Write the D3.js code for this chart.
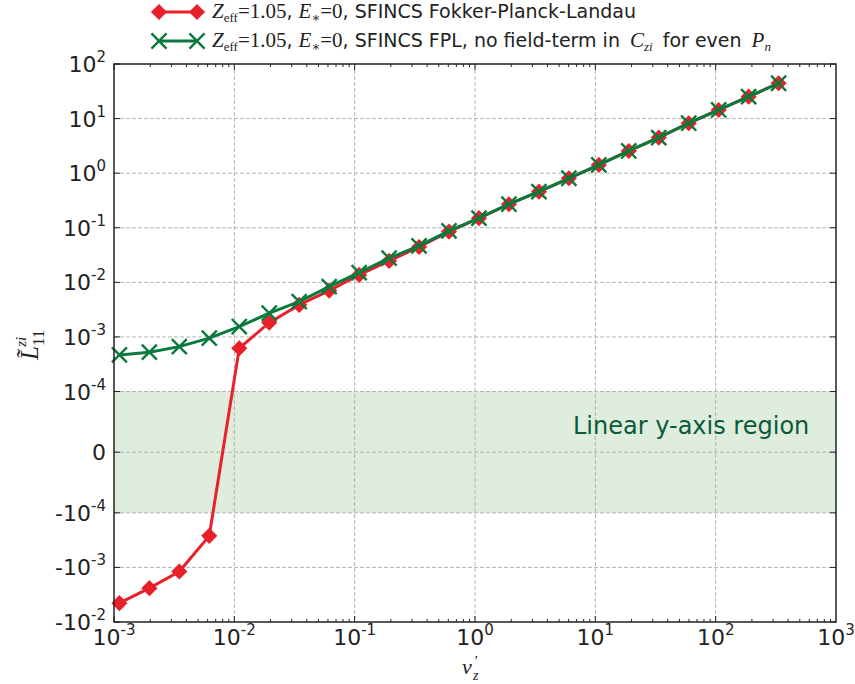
<!DOCTYPE html>
<html>
<head>
<meta charset="utf-8">
<script src="https://cdn.jsdelivr.net/npm/d3@7"></script>
<style>
  body { margin: 0; background: #fff; }
  svg { display: block; }
</style>
</head>
<body>
<div id="chart"></div>
<script>
// Normalised collision frequency nu'_z (x values shared by both runs)
const nuPrime = [1.109e-3, 1.968e-3, 3.49e-3, 6.19e-3, 0.01099, 0.0195, 0.0346, 0.0614,
  0.1089, 0.1932, 0.3428, 0.608, 1.079, 1.914, 3.40, 6.03, 10.69, 18.97, 33.65, 59.7,
  105.9, 187.9, 333.4];

// L11^zi, full Fokker-Planck-Landau operator
const fplValues = [-4.52e-3, -2.40e-3, -1.19e-3, -2.64e-4, 6.22e-4, 1.83e-3, 3.86e-3,
  7.06e-3, 0.01368, 0.0247, 0.0445, 0.085, 0.150, 0.270, 0.459, 0.807, 1.416, 2.55,
  4.48, 8.22, 14.4, 25.2, 44.4];

// L11^zi, FPL without field term in C_zi for even P_n
const noFieldValues = [4.69e-4, 5.26e-4, 6.65e-4, 9.5e-4, 1.55e-3, 2.72e-3, 4.43e-3,
  8.35e-3, 0.01507, 0.0277, 0.0465, 0.0875, 0.150, 0.270, 0.459, 0.807, 1.416, 2.55,
  4.48, 8.22, 14.4, 25.2, 44.4];

const xTickExps = [-3, -2, -1, 0, 1, 2, 3];
// y ticks: [value, sign prefix, exponent or null for plain "0"]
const yTicks = [[1e2, "", 2], [1e1, "", 1], [1e0, "", 0], [1e-1, "", -1], [1e-2, "", -2],
  [1e-3, "", -3], [1e-4, "", -4], [0, "", null], [-1e-4, "-", -4], [-1e-3, "-", -3], [-1e-2, "-", -2]];

const W = 855, H = 684;
const M = { left: 114, right: 836, top: 64, bottom: 622 };

const svg = d3.select("#chart").append("svg").attr("width", W).attr("height", H);

// Symmetric-log transform (linear within +-linthresh, log outside)
const linthresh = 1e-4, linscaleAdj = 1 / (1 - 1 / 10);
function symT(v) {
  const a = Math.abs(v);
  return a <= linthresh ? v / linthresh * linscaleAdj
    : Math.sign(v) * (Math.log10(a / linthresh) + linscaleAdj);
}
const yLin = d3.scaleLinear().domain([symT(-1e-2), symT(1e2)]).range([M.bottom, M.top]);
const y = v => yLin(symT(v));
const x = d3.scaleLog().domain([1e-3, 1e3]).range([M.left, M.right]);

const sans = "'DejaVu Sans', sans-serif";
const serif = "'Liberation Serif', 'DejaVu Serif', serif";

// linear region band
svg.append("rect")
  .attr("x", M.left).attr("width", M.right - M.left)
  .attr("y", y(1e-4)).attr("height", y(-1e-4) - y(1e-4))
  .attr("fill", "#deeddd");

// grid
const grid = svg.append("g").attr("stroke", "#b4b4b4").attr("stroke-width", 1)
  .attr("stroke-dasharray", "4,2");
xTickExps.slice(1, -1).forEach(e => {
  grid.append("line").attr("x1", x(10 ** e)).attr("x2", x(10 ** e))
    .attr("y1", M.top).attr("y2", M.bottom);
});
yTicks.slice(1, -1).forEach(t => {
  grid.append("line").attr("y1", y(t[0])).attr("y2", y(t[0]))
    .attr("x1", M.left).attr("x2", M.right);
});

svg.append("text")
  .attr("x", 573).attr("y", 434)
  .attr("font-family", sans).attr("font-size", 24)
  .attr("fill", "#0b5a3a")
  .text("Linear y-axis region");

// x ticks (major + minor), inward on bottom and top
const tk = svg.append("g").attr("stroke", "#222").attr("stroke-width", 1);
for (let e = -3; e < 3; e++) {
  for (let m = 1; m <= 9; m++) {
    const v = m * 10 ** e;
    const len = m === 1 ? 6 : 3;
    tk.append("line").attr("x1", x(v)).attr("x2", x(v)).attr("y1", M.bottom).attr("y2", M.bottom - len);
    tk.append("line").attr("x1", x(v)).attr("x2", x(v)).attr("y1", M.top).attr("y2", M.top + len);
  }
}
yTicks.forEach(t => {
  tk.append("line").attr("y1", y(t[0])).attr("y2", y(t[0])).attr("x1", M.right).attr("x2", M.right - 6);
  tk.append("line").attr("y1", y(t[0])).attr("y2", y(t[0])).attr("x1", M.left).attr("x2", M.left + 6);
});

// series
const line = d3.line().x(d => x(d[0])).y(d => y(d[1]));
const redC = "#e8202a", greenC = "#0a7a3c";
const redData = d3.zip(nuPrime, fplValues);
const greenData = d3.zip(nuPrime, noFieldValues);

const diamond = d3.symbol().type(d3.symbolSquare).size(130);
const cross = d3.symbol().type(d3.symbolTimes).size(150);

svg.append("path").datum(redData).attr("d", line)
  .attr("fill", "none").attr("stroke", redC).attr("stroke-width", 3);
svg.append("g").selectAll("path").data(redData).join("path")
  .attr("d", diamond)
  .attr("transform", d => `translate(${x(d[0])},${y(d[1])}) rotate(45)`)
  .attr("fill", redC);

svg.append("path").datum(greenData).attr("d", line)
  .attr("fill", "none").attr("stroke", greenC).attr("stroke-width", 3);
svg.append("g").selectAll("path").data(greenData).join("path")
  .attr("d", cross)
  .attr("transform", d => `translate(${x(d[0])},${y(d[1])})`)
  .attr("fill", "none").attr("stroke", greenC).attr("stroke-width", 2.4);

// frame
svg.append("rect").attr("x", M.left).attr("y", M.top)
  .attr("width", M.right - M.left).attr("height", M.bottom - M.top)
  .attr("fill", "none").attr("stroke", "#222").attr("stroke-width", 1.5);

// tick labels
function powLabel(sel, prefix, exp) {
  sel.append("tspan").text(prefix + "10");
  sel.append("tspan").attr("font-size", 15).attr("dy", -10).text(exp);
}
yTicks.forEach(t => {
  const tx = svg.append("text")
    .attr("x", 106).attr("y", y(t[0]) + 8)
    .attr("text-anchor", "end")
    .attr("font-family", sans).attr("font-size", 22).attr("fill", "#222");
  if (t[2] === null) tx.text("0");
  else powLabel(tx, t[1], t[2]);
});
xTickExps.forEach(e => {
  const tx = svg.append("text")
    .attr("x", x(10 ** e)).attr("y", M.bottom + 23)
    .attr("text-anchor", "middle")
    .attr("font-family", sans).attr("font-size", 22).attr("fill", "#222");
  powLabel(tx, "", e);
});

// axis titles
const xl = svg.append("text").attr("x", 462).attr("y", 674)
  .attr("font-family", serif).attr("font-size", 22).attr("font-style", "italic").attr("fill", "#222");
xl.append("tspan").text("ν");
xl.append("tspan").attr("font-style", "normal").attr("font-size", 15).attr("dx", 3).attr("dy", -8).text("′");
xl.append("tspan").attr("font-size", 14).attr("dx", -5).attr("dy", 14).text("z");

const yl = svg.append("text").attr("transform", "translate(38,360) rotate(-90)")
  .attr("font-family", serif).attr("font-size", 25).attr("font-style", "italic").attr("fill", "#222");
yl.append("tspan").text("L\u0303");
yl.append("tspan").attr("font-style", "normal").attr("font-size", 17).attr("dy", 6).text("11");
yl.append("tspan").attr("font-size", 15).attr("dx", -17).attr("dy", -18).text("zi");

// legend
function legendEntry(yc, color, marker, parts) {
  svg.append("line").attr("x1", 159).attr("x2", 197).attr("y1", yc).attr("y2", yc)
    .attr("stroke", color).attr("stroke-width", 3);
  [159, 197].forEach(px => {
    if (marker === "diamond") {
      svg.append("path").attr("d", diamond).attr("transform", `translate(${px},${yc}) rotate(45)`).attr("fill", color);
    } else {
      svg.append("path").attr("d", cross).attr("transform", `translate(${px},${yc})`)
        .attr("fill", "none").attr("stroke", color).attr("stroke-width", 2.4);
    }
  });
  const t = svg.append("text").attr("x", 212).attr("y", yc + 6)
    .attr("font-size", 19).attr("fill", "#222");
  parts.forEach((p, k) => {
    const s = t.append("tspan").text(p.t)
      .attr("font-family", p.f === "sans" ? sans : serif);
    if (p.f === "serif") s.attr("font-size", 21);
    if (p.i) s.attr("font-style", "italic");
    if (p.dx) s.attr("dx", p.dx);
    if (p.sub) s.attr("font-size", 13).attr("dy", 4);
    else if (k > 0 && parts[k - 1].sub) s.attr("dy", -4);
  });
}
const common = [
  { t: "Z", f: "serif", i: true }, { t: "eff", f: "serif", sub: true },
  { t: "=1.05", f: "serif" }, { t: ", ", f: "sans" },
  { t: "E", f: "serif", i: true }, { t: "∗", f: "serif", sub: true },
  { t: "=0", f: "serif" }
];
legendEntry(12, redC, "diamond", common.concat([{ t: ", SFINCS Fokker-Planck-Landau", f: "sans" }]));
legendEntry(41, greenC, "cross", common.concat([
  { t: ", SFINCS FPL, no field-term in ", f: "sans" },
  { t: "C", f: "serif", i: true, dx: 4 }, { t: "zi", f: "serif", i: true, sub: true },
  { t: " for even ", f: "sans", dx: 4 },
  { t: "P", f: "serif", i: true, dx: 4 }, { t: "n", f: "serif", i: true, sub: true }
]));
</script>
</body>
</html>
